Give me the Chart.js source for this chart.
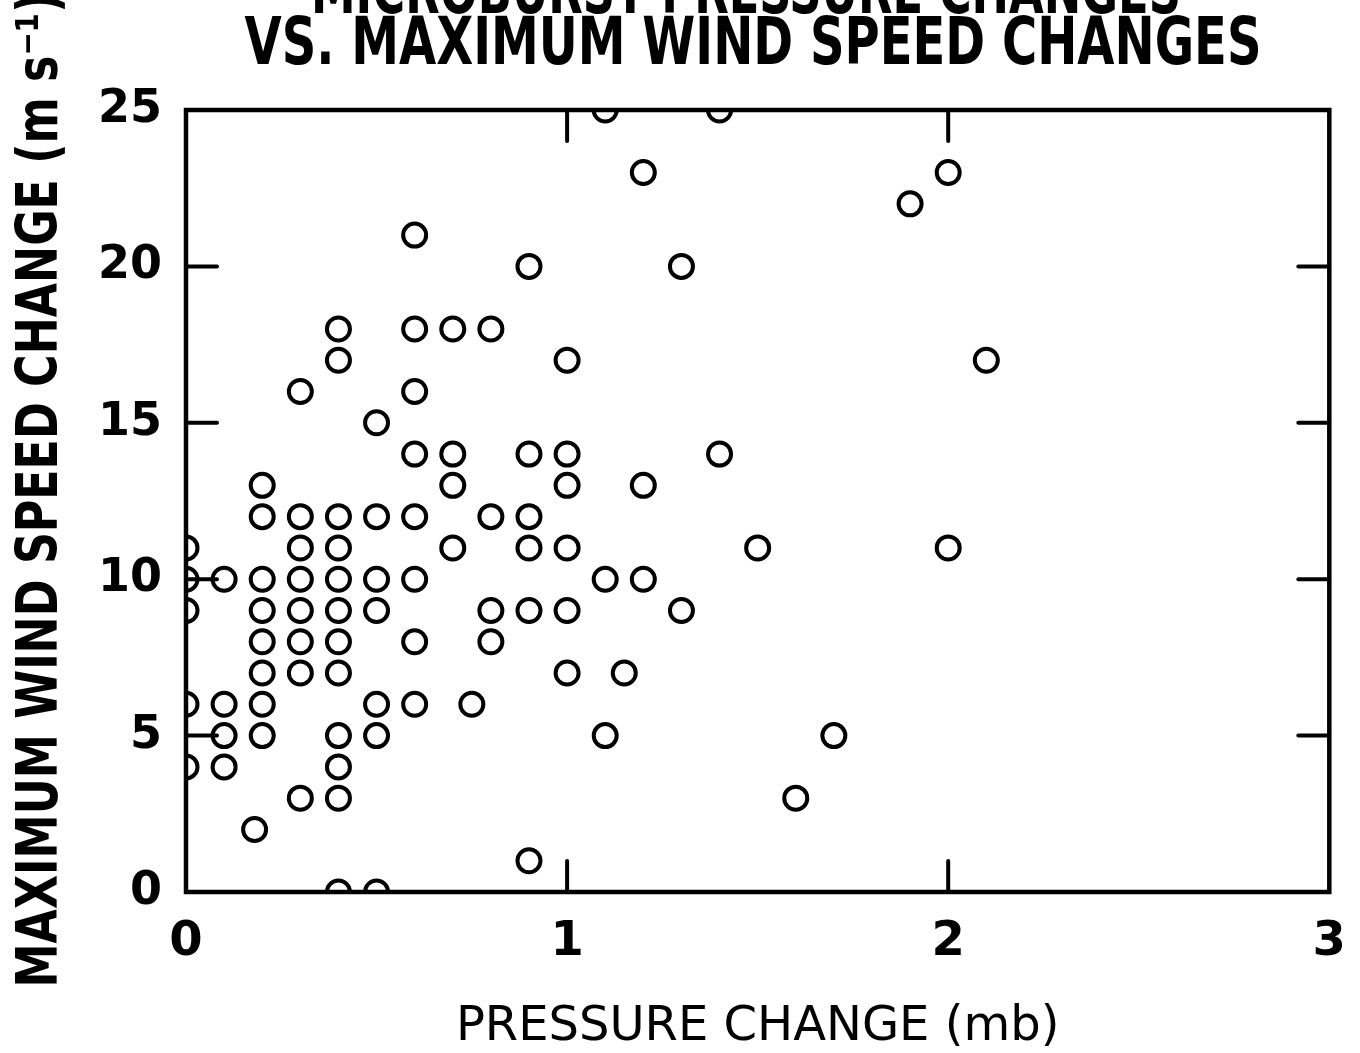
<!DOCTYPE html>
<html>
<head>
<meta charset="utf-8">
<script src="https://cdn.jsdelivr.net/npm/chart.js@4/dist/chart.umd.min.js"></script>
<style>
  html, body { margin: 0; padding: 0; background: #fff; }
  #wrap { position: relative; width: 1360px; height: 1053px; }
</style>
</head>
<body>
<div id="wrap"><canvas id="chart"></canvas></div>
<script>
// pressure change (mb) and maximum wind speed change (m/s), one entry per circle
const pressureChange = [
  0, 0, 0, 0, 0,
  0.1, 0.1, 0.1, 0.1,
  0.18,
  0.2, 0.2, 0.2, 0.2, 0.2, 0.2, 0.2, 0.2,
  0.3, 0.3, 0.3, 0.3, 0.3, 0.3, 0.3, 0.3,
  0.4, 0.4, 0.4, 0.4, 0.4, 0.4, 0.4, 0.4, 0.4, 0.4, 0.4, 0.4,
  0.5, 0.5, 0.5, 0.5, 0.5, 0.5, 0.5,
  0.6, 0.6, 0.6, 0.6, 0.6, 0.6, 0.6, 0.6,
  0.7, 0.7, 0.7, 0.7,
  0.75,
  0.8, 0.8, 0.8, 0.8,
  0.9, 0.9, 0.9, 0.9, 0.9, 0.9,
  1.0, 1.0, 1.0, 1.0, 1.0, 1.0,
  1.1, 1.1, 1.1,
  1.15,
  1.2, 1.2, 1.2,
  1.3, 1.3,
  1.4, 1.4,
  1.5,
  1.6,
  1.7,
  1.9,
  2.0, 2.0,
  2.1
];
const windSpeedChange = [
  11, 10, 9, 6, 4,
  10, 6, 5, 4,
  2,
  13, 12, 10, 9, 8, 7, 6, 5,
  16, 12, 11, 10, 9, 8, 7, 3,
  18, 17, 12, 11, 10, 9, 8, 7, 5, 4, 3, 0,
  15, 12, 10, 9, 6, 5, 0,
  21, 18, 16, 14, 12, 10, 8, 6,
  18, 14, 13, 11,
  6,
  18, 12, 9, 8,
  20, 14, 12, 11, 9, 1,
  17, 14, 13, 11, 9, 7,
  25, 10, 5,
  7,
  23, 13, 10,
  20, 9,
  25, 14,
  11,
  3,
  5,
  22,
  23, 11,
  17
];
const xTickValues = [0, 1, 2, 3];
const yTickValues = [0, 5, 10, 15, 20, 25];

const titleLines = ['MICROBURST PRESSURE CHANGES', 'VS. MAXIMUM WIND SPEED CHANGES'];
const xTitle = 'PRESSURE CHANGE (mb)';
const yTitle = 'MAXIMUM WIND SPEED CHANGE (m s\u207B\u00B9)';

const points = pressureChange.map((p, i) => ({ x: p, y: windSpeedChange[i] }));

const boldNarrow = "'DejaVu Sans Condensed', 'Liberation Sans Narrow', 'DejaVu Sans', sans-serif";

// box frame, inward tick marks and the text that Chart.js would squeeze
const framePlugin = {
  id: 'frame',
  afterDatasetsDraw(chart) {
    const { ctx, chartArea: a, scales: { x, y } } = chart;
    const len = 31;
    ctx.save();
    ctx.strokeStyle = '#000';
    ctx.lineCap = 'round';
    ctx.lineWidth = 4.5;
    ctx.strokeRect(a.left, a.top, a.right - a.left, a.bottom - a.top);
    ctx.lineWidth = 4;
    ctx.beginPath();
    xTickValues.slice(1, -1).forEach(v => {
      const px = x.getPixelForValue(v);
      ctx.moveTo(px, a.bottom); ctx.lineTo(px, a.bottom - len);
      ctx.moveTo(px, a.top); ctx.lineTo(px, a.top + len);
    });
    yTickValues.slice(1, -1).forEach(v => {
      const py = y.getPixelForValue(v);
      ctx.moveTo(a.left, py); ctx.lineTo(a.left + len, py);
      ctx.moveTo(a.right, py); ctx.lineTo(a.right - len, py);
    });
    ctx.stroke();
    ctx.restore();
  },
  afterDraw(chart) {
    const { ctx } = chart;
    ctx.save();
    ctx.fillStyle = '#000';
    ctx.textAlign = 'center';
    ctx.textBaseline = 'middle';
    ctx.font = 'bold 66px ' + boldNarrow;
    ctx.fillText(titleLines[0], 746, -4, 870);
    ctx.fillText(titleLines[1], 753, 47, 1017);
    ctx.translate(42, 490);
    ctx.rotate(-Math.PI / 2);
    ctx.font = 'bold 57px ' + boldNarrow;
    ctx.fillText(yTitle, 0, 0, 995);
    ctx.restore();
  }
};

new Chart(document.getElementById('chart'), {
  type: 'scatter',
  data: {
    datasets: [{
      data: points,
      pointStyle: 'circle',
      pointRadius: 11.5,
      pointHoverRadius: 11.5,
      borderWidth: 4,
      borderColor: '#000',
      backgroundColor: 'rgba(0,0,0,0)',
      clip: 0
    }]
  },
  plugins: [framePlugin],
  options: {
    responsive: true,
    maintainAspectRatio: false,
    animation: false,
    events: [],
    layout: { padding: { left: 0, right: 25, top: 110, bottom: 0 } },
    plugins: { legend: { display: false }, tooltip: { enabled: false }, title: { display: false } },
    scales: {
      x: {
        type: 'linear',
        min: 0, max: 3,
        afterBuildTicks: s => { s.ticks = xTickValues.map(v => ({ value: v })); },
        afterFit: s => { s.height = 161; },
        grid: { display: false },
        border: { display: false },
        ticks: {
          color: '#000',
          padding: 14,
          font: { family: "'DejaVu Sans', sans-serif", size: 48, weight: 'bold' }
        },
        title: {
          display: true,
          text: xTitle,
          color: '#000',
          padding: { top: 0, bottom: -3 },
          font: { family: "'DejaVu Sans', sans-serif", size: 48, weight: 500 }
        }
      },
      y: {
        type: 'linear',
        min: 0, max: 25,
        afterBuildTicks: s => { s.ticks = yTickValues.map(v => ({ value: v })); },
        afterFit: s => { s.width = 186; },
        grid: { display: false },
        border: { display: false },
        ticks: {
          color: '#000',
          padding: 16,
          font: { family: "'DejaVu Sans', sans-serif", size: 46, weight: 'bold' }
        }
      }
    }
  }
});
</script>
</body>
</html>
